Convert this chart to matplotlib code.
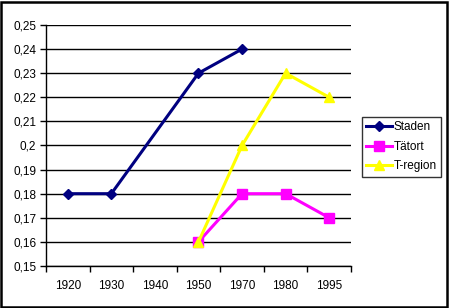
import numpy as np
import matplotlib
matplotlib.use('Agg')
import matplotlib.pyplot as plt
from matplotlib.patches import Rectangle

plt.rcParams['font.family'] = ['Liberation Sans', 'DejaVu Sans']

years = ['1920', '1930', '1940', '1950', '1970', '1980', '1995']
staden = [0.18, 0.18, np.nan, 0.23, 0.24, np.nan, np.nan]
tatort = [np.nan, np.nan, np.nan, 0.16, 0.18, 0.18, 0.17]
tregion = [np.nan, np.nan, np.nan, 0.16, 0.20, 0.23, 0.22]

series = [
	('Staden', staden, '#000080', 'D', 5),
	('Tätort', tatort, '#FF00FF', 's', 7),
	('T-region', tregion, '#FFFF00', '^', 7),
]

fig = plt.figure(figsize=(4.49, 3.08), dpi=100)
fig.patch.set_facecolor('white')
# outer chart border
fig.patches.append(Rectangle((0.002, 0.003), 0.994, 0.992, transform=fig.transFigure,
							 fill=False, edgecolor='black', linewidth=1.8))

ax = fig.add_axes([0.1024, 0.1364, 0.6793, 0.7825])

x = np.arange(len(years))
for name, vals, color, marker, ms in series:
	vals = np.array(vals)
	ok = ~np.isnan(vals)
	ax.plot(x[ok], vals[ok], color=color, linewidth=2.2, marker=marker, markersize=ms,
			markeredgecolor=color, label=name, zorder=3)

yvals = np.arange(0.15, 0.2501, 0.01)
ax.set_xlim(-0.5, len(years) - 0.5)
ax.set_ylim(0.15, 0.25)
ax.set_yticks(yvals)
ax.set_yticklabels([('%.2f' % v).rstrip('0').replace('.', ',') for v in yvals])
ax.set_xticks(x)
ax.set_xticklabels(years)
ax.set_xticks(np.arange(-0.5, len(years)), minor=True)
ax.tick_params(axis='x', which='major', length=0, pad=10, labelsize=8.5)
ax.tick_params(axis='x', which='minor', length=4, width=1, color='black')
ax.tick_params(axis='y', length=4, width=1, labelsize=8.5, pad=3)

ax.grid(axis='y', color='black', linewidth=1)
ax.set_axisbelow(True)
for s in ['top', 'right']:
	ax.spines[s].set_visible(False)
for s in ['left', 'bottom']:
	ax.spines[s].set_linewidth(1)

leg = fig.legend(loc='upper left', bbox_to_anchor=(362 / 449, 1 - 117 / 308), fontsize=8.5,
				 frameon=True, fancybox=False, edgecolor='black', borderpad=0.35,
				 handlelength=2.2, handletextpad=0.1, labelspacing=0.65, borderaxespad=0)
leg.get_frame().set_linewidth(1)

fig.savefig('out.png', dpi=100, facecolor='white')
